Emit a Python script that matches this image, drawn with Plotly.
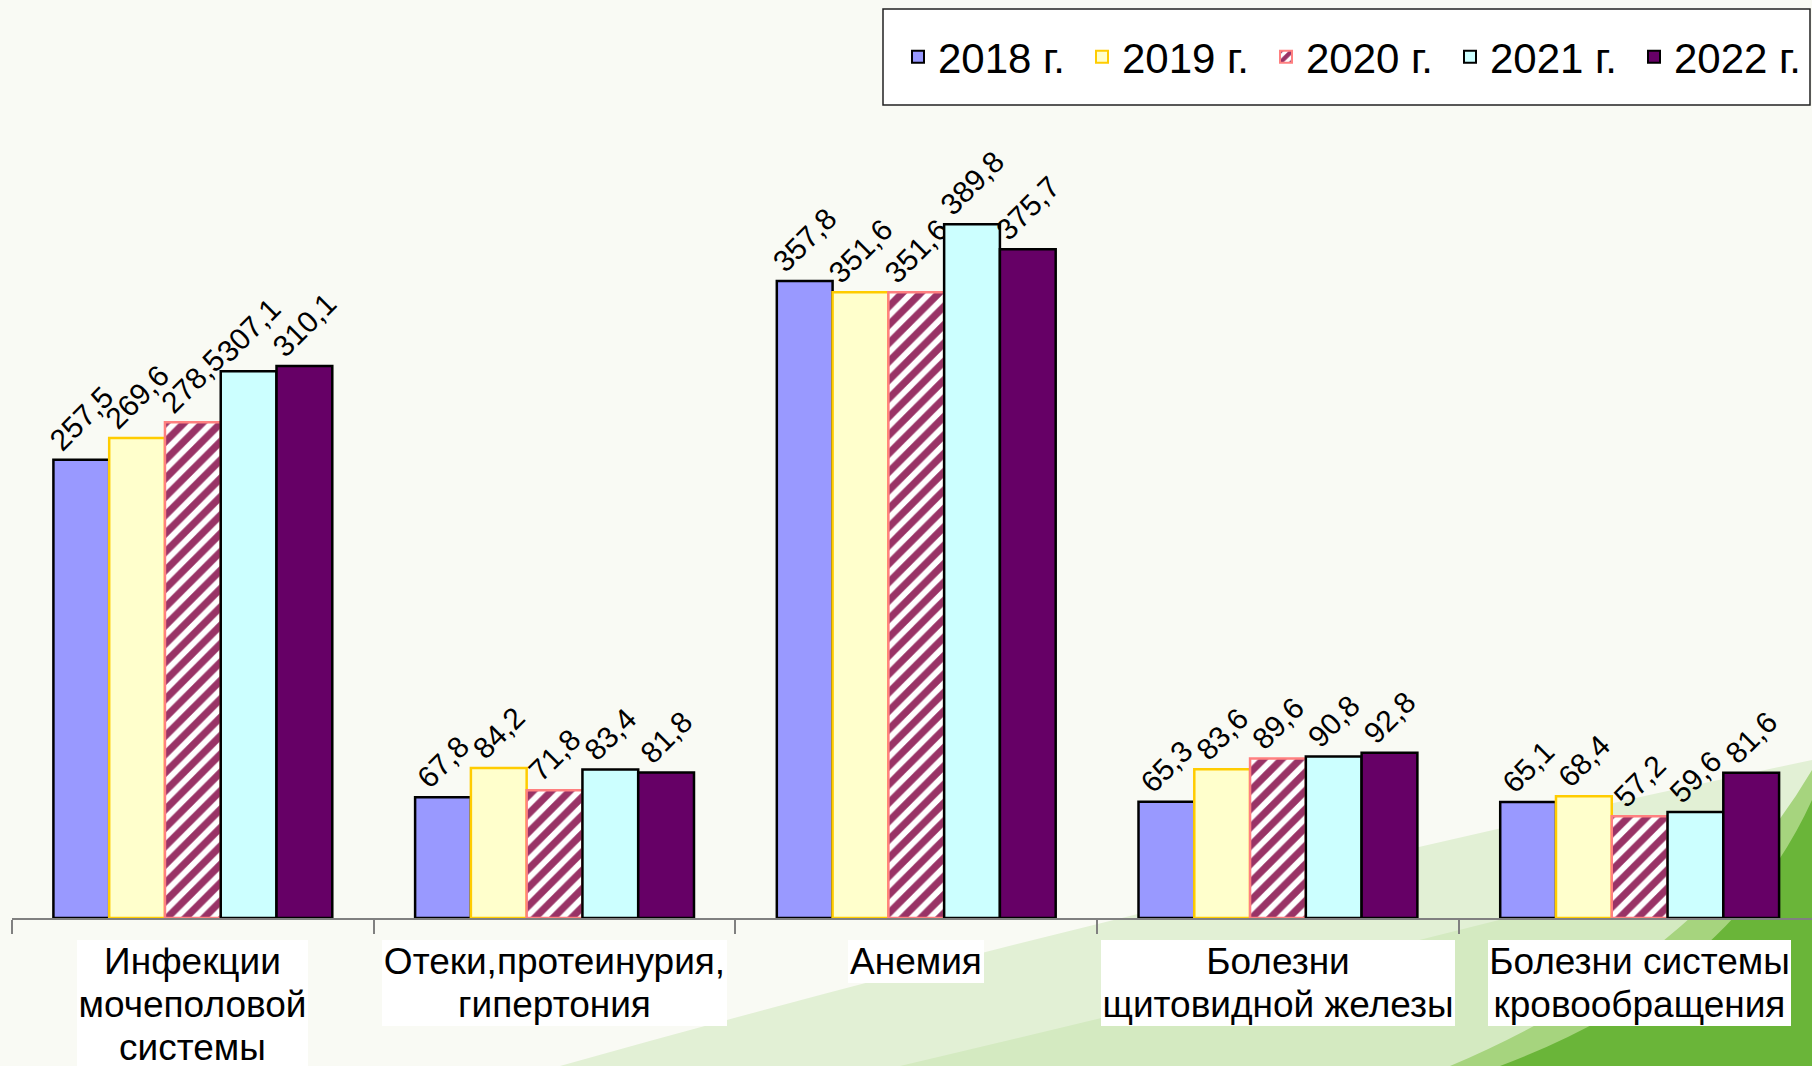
import plotly.graph_objects as go

# ---------------- data ----------------
categories = ["Инфекции мочеполовой системы", "Отеки,протеинурия, гипертония", "Анемия",
              "Болезни щитовидной железы", "Болезни системы кровообращения"]
category_lines = [["Инфекции", "мочеполовой", "системы"],
                  ["Отеки,протеинурия,", "гипертония"],
                  ["Анемия"],
                  ["Болезни", "щитовидной железы"],
                  ["Болезни системы", "кровообращения"]]
years = ["2018 г.", "2019 г.", "2020 г.", "2021 г.", "2022 г."]
v2018 = [257.5, 67.8, 357.8, 65.3, 65.1]
v2019 = [269.6, 84.2, 351.6, 83.6, 68.4]
v2020 = [278.5, 71.8, 351.6, 89.6, 57.2]
v2021 = [307.1, 83.4, 389.8, 90.8, 59.6]
v2022 = [310.1, 81.8, 375.7, 92.8, 81.6]
series = [v2018, v2019, v2020, v2021, v2022]

# ---------------- styles ----------------
fills = ["#9999FF", "#FFFFCC", "#FFFFFF", "#CCFFFF", "#660066"]
borders = ["#000000", "#FFCC00", "#FF8080", "#000000", "#000000"]
patterns = [None, None,
            dict(shape="/", fgcolor="#993366", bgcolor="#FFFFFF", size=13, solidity=0.55, fgopacity=1),
            None, None]
label_box_widths = [231, 345, 136, 354, 303]

W, H = 1812, 1066
ML, MT, MB = 12, 117, 148
PW = W - ML
PH = H - MT - MB
FONT = "Liberation Sans, Arial, sans-serif"


def px(x):
    return (x - ML) / PW


def py(y):
    return (H - MB - y) / PH


fig = go.Figure()
for name, vals, fc, bc, pat in zip(years, series, fills, borders, patterns):
    marker = dict(color=fc, line=dict(color=bc, width=2.5))
    if pat:
        marker["pattern"] = pat
    fig.add_trace(go.Bar(
        x=categories, y=vals, name=name, marker=marker,
        texttemplate="%{y:.1f}", textposition="outside", textangle=-45,
        textfont=dict(family=FONT, size=30, color="#000000"),
        constraintext="none", cliponaxis=False,
    ))

# category labels (white boxes)
LINE_H = 43
for cat, lines, bw in zip(categories, category_lines, label_box_widths):
    for i, ln in enumerate(lines):
        fig.add_annotation(
            x=cat, xref="x", y=py(940 + LINE_H * i + LINE_H / 2), yref="paper",
            text=ln, showarrow=False, xanchor="center", yanchor="middle",
            width=bw, height=LINE_H, bgcolor="#FFFFFF", borderpad=0, borderwidth=0,
            font=dict(family=FONT, size=37, color="#000000"),
        )

shapes = []
# background decoration (green swooshes)
bg = [
    ([(560, 1066), (1150, 900), (1812, 760), (1812, 1066)], "#E2F0D5"),
    ([(900, 1066), (1350, 960), (1812, 840), (1812, 1066)], "#D4EAC1"),
    ([(1450, 1066), (1700, 960), (1812, 770), (1812, 1066)], "#A6D47E"),
    ([(1500, 1066), (1730, 980), (1812, 800), (1812, 1066)], "#6AB539"),
]
for pts, col in bg:
    (a, b), (c, d), (e, f), (g, h) = pts
    p = "M {},{} Q {},{} {},{} L {},{} Z".format(px(a), py(b), px(c), py(d), px(e), py(f), px(g), py(h))
    shapes.append(dict(type="path", path=p, xref="paper", yref="paper",
                       fillcolor=col, line=dict(width=0), layer="below"))
# legend frame
shapes.append(dict(type="rect", xref="paper", yref="paper",
                   x0=px(883), x1=px(1810), y0=py(105), y1=py(9),
                   fillcolor="#FFFFFF", line=dict(color="#222222", width=1.5), layer="below"))

fig.update_layout(
    width=W, height=H,
    margin=dict(l=ML, r=0, t=MT, b=MB, pad=0),
    paper_bgcolor="#F9FAF4", plot_bgcolor="rgba(0,0,0,0)",
    separators=", ",
    barmode="group", bargap=0.229, bargroupgap=0,
    font=dict(family=FONT, color="#000000"),
    showlegend=True,
    legend=dict(orientation="h", xref="container", yref="container",
                x=898 / W, y=1 - 57 / H, xanchor="left", yanchor="middle",
                bgcolor="rgba(0,0,0,0)", borderwidth=0,
                font=dict(family=FONT, size=42, color="#000000"),
                entrywidth=139, entrywidthmode="pixels",
                itemsizing="constant", traceorder="normal"),
    xaxis=dict(range=[-0.5, -0.5 + PW / 361.7], showgrid=False, zeroline=False,
               showline=True, linecolor="#808080", linewidth=2,
               ticks="outside", tickson="boundaries", ticklen=14, tickcolor="#808080", tickwidth=1.5,
               showticklabels=False, fixedrange=True),
    yaxis=dict(range=[0, 450], visible=False, fixedrange=True),
    shapes=shapes,
)

fig.write_html("out.html", config={"displayModeBar": False},
               post_script="document.body.style.margin='0';document.body.style.overflow='hidden';")
